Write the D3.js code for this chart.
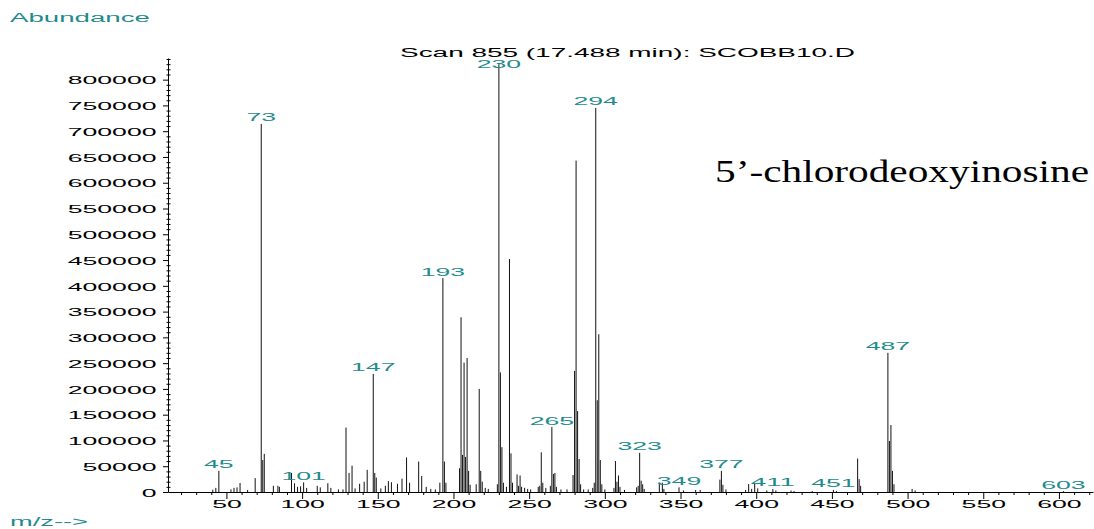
<!DOCTYPE html>
<html>
<head>
<meta charset="utf-8">
<script src="https://cdn.jsdelivr.net/npm/d3@7"></script>
<style>
    html, body { margin: 0; padding: 0; background: #fff; }
    svg { display: block; font-family: "Liberation Sans", Arial, sans-serif; }
</style>
</head>
<body>
<svg id="chart" width="1094" height="529"></svg>
<script>
// Mass spectrum data (m/z and abundance).
const peakMz = [41, 43, 45, 53, 55, 57, 59, 64, 69, 73, 74, 75, 81, 84, 85, 93, 95, 97, 99, 101,
    103, 110, 112, 117, 119, 124, 127, 129, 131, 133, 135, 138, 141, 143, 147, 148, 149, 152, 155, 157,
    159, 163, 166, 169, 171, 177, 179, 182, 185, 188, 191, 193, 194, 195, 204, 205, 206, 207, 208, 209,
    210, 211, 215, 217, 218, 219, 221, 223, 229, 230, 231, 232, 233, 235, 237, 238, 239, 242, 243, 244,
    245, 247, 249, 251, 256, 257, 258, 259, 261, 264, 265, 266, 267, 268, 271, 275, 279, 280, 281, 282,
    283, 284, 286, 289, 292, 293, 294, 295, 296, 297, 298, 300, 306, 307, 308, 309, 310, 313, 321, 322,
    323, 324, 325, 326, 336, 338, 339, 349, 352, 360, 363, 376, 377, 378, 380, 393, 395, 397, 399, 401,
    407, 411, 413, 423, 425, 437, 451, 453, 467, 468, 469, 487, 488, 489, 490, 491, 503, 505, 603];
const peakAbundance = [4500, 8000, 41000, 5000, 8000, 9000, 17500, 4000, 27000, 714000, 62000, 74000, 12000, 12000, 10000, 37000, 17000, 10000, 11000, 18500,
    8000, 12000, 9000, 17000, 8000, 5000, 5000, 125000, 37000, 51000, 7000, 16000, 20000, 43000, 229000, 37000, 28000, 7000, 12000, 21000,
    19000, 16000, 26000, 67000, 18000, 59000, 31000, 10000, 6000, 5000, 18000, 415000, 59000, 18000, 46000, 339000, 72000, 251000, 68000, 260000,
    41000, 14000, 15000, 200000, 41000, 20000, 8000, 6000, 15000, 830000, 232000, 87000, 18000, 10000, 452000, 75000, 18000, 34000, 12000, 32000,
    10000, 8000, 6000, 5000, 10000, 12000, 77000, 18000, 8000, 12000, 126000, 35000, 37000, 10000, 5000, 5000, 33000, 235000, 643000, 157000,
    64000, 15000, 5000, 5000, 8000, 18000, 745000, 178000, 306000, 62000, 15000, 5000, 8000, 60000, 20000, 32000, 10000, 4000, 9000, 12000,
    76000, 22000, 15000, 6000, 18000, 18000, 6000, 9000, 3000, 4000, 4000, 24000, 41000, 14000, 5000, 4000, 15500, 6000, 18000, 7000,
    3000, 6000, 3000, 3000, 2000, 2000, 4000, 2000, 65000, 25000, 12000, 270000, 99000, 130000, 41000, 15000, 6000, 3000, 1500];
const labelledMz = [45, 73, 101, 147, 193, 230, 265, 294, 323, 349, 377, 411, 451, 487, 603];

const xMajorTicks = [50, 100, 150, 200, 250, 300, 350, 400, 450, 500, 550, 600];
const xMinorTicks = d3.range(20, 621, 10).filter(v => v % 50 !== 0);
const yMajorTicks = d3.range(0, 800001, 50000);
const yMinorTicks = d3.range(0, 840001, 10000).filter(v => v % 50000 !== 0);

const TEAL = "#1f8c8c";
const CHAR_W = 14.8;

const svg = d3.select("#chart");

const x = d3.scaleLinear().domain([11.4, 622.5]).range([168, 1093]);
const y = d3.scaleLinear().domain([0, 842000]).range([492, 58]);

// Text in the original is stretched wide, so fix each string's length.
const stretch = (sel, perChar) => sel
    .attr("textLength", function () { return this.textContent.length * perChar; })
    .attr("lengthAdjust", "spacingAndGlyphs");

const abundance = new Map(peakMz.map((m, i) => [m, peakAbundance[i]]));

// Spectrum sticks.
svg.append("g")
    .selectAll("line")
    .data(peakMz)
    .join("line")
    .attr("x1", d => x(d))
    .attr("x2", d => x(d))
    .attr("y1", y(0))
    .attr("y2", d => y(abundance.get(d)))
    .attr("stroke", "#111")
    .attr("stroke-width", 1);

// X axis: majors with labels, minors as short marks.
svg.append("g")
    .attr("transform", `translate(0, ${y(0)})`)
    .call(d3.axisBottom(x).tickValues(xMinorTicks).tickSize(3).tickSizeOuter(0).tickFormat(""))
    .call(g => g.select(".domain").remove());

svg.append("g")
    .attr("transform", `translate(0, ${y(0)})`)
    .call(d3.axisBottom(x).tickValues(xMajorTicks).tickSize(7).tickSizeOuter(0).tickPadding(1))
    .call(g => g.selectAll("text")
        .attr("fill", "#000")
        .style("font-size", "11.6px")
        .call(stretch, CHAR_W));

// Y axis.
svg.append("g")
    .attr("transform", `translate(${x.range()[0]}, 0)`)
    .call(d3.axisLeft(y).tickValues(yMajorTicks).tickSize(5).tickSizeOuter(0).tickPadding(6.5).tickFormat(d3.format("d")))
    .call(g => g.selectAll("text")
        .attr("fill", "#000")
        .attr("dy", "0.36em")
        .style("font-size", "11.6px")
        .call(stretch, CHAR_W));

svg.append("g")
    .selectAll("line")
    .data(yMinorTicks)
    .join("line")
    .attr("x1", x.range()[0] - 1.5)
    .attr("x2", x.range()[0] + 2.5)
    .attr("y1", d => y(d) + 0.5)
    .attr("y2", d => y(d) + 0.5)
    .attr("stroke", "#000");

// Peak labels sit just above the stick, but never above the title line.
svg.append("g")
    .selectAll("text")
    .data(labelledMz)
    .join("text")
    .attr("x", d => x(d))
    .attr("y", d => Math.max(y(abundance.get(d)) - 2.5, 68.3))
    .attr("text-anchor", "middle")
    .attr("fill", TEAL)
    .style("font-size", "11px")
    .text(d => d)
    .call(stretch, CHAR_W);

// Titles.
svg.append("text")
    .attr("x", 10).attr("y", 21.7)
    .attr("fill", TEAL)
    .style("font-size", "12.5px")
    .attr("textLength", 140).attr("lengthAdjust", "spacingAndGlyphs")
    .text("Abundance");

svg.append("text")
    .attr("x", 400).attr("y", 57)
    .attr("fill", "#000")
    .style("font-size", "12px")
    .attr("textLength", 455).attr("lengthAdjust", "spacingAndGlyphs")
    .text("Scan 855 (17.488 min): SCOBB10.D");

svg.append("text")
    .attr("x", 10).attr("y", 526)
    .attr("fill", TEAL)
    .style("font-size", "12px")
    .attr("textLength", 78).attr("lengthAdjust", "spacingAndGlyphs")
    .text("m/z-->");

svg.append("text")
    .attr("x", 715).attr("y", 182)
    .attr("fill", "#000")
    .style("font-family", "'Liberation Serif', 'Times New Roman', serif")
    .style("font-size", "32px")
    .attr("textLength", 374).attr("lengthAdjust", "spacingAndGlyphs")
    .text("5\u2019-chlorodeoxyinosine");
</script>
</body>
</html>
